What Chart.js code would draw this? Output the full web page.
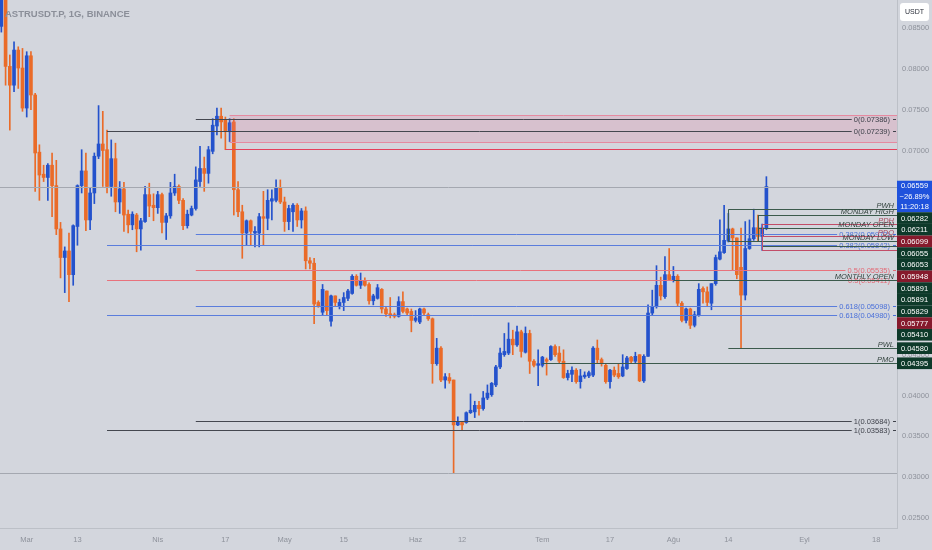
<!DOCTYPE html>
<html>
<head>
<meta charset="utf-8">
<script src="https://cdn.jsdelivr.net/npm/chart.js@4.4.0/dist/chart.umd.min.js"></script>
<style>
  html, body { margin: 0; padding: 0; background: #d3d6dd; }
  #wrap { width: 932px; height: 550px; }
</style>
</head>
<body>
<div id="wrap"><canvas id="myChart"></canvas></div>
<script>
// daily candles, day 0 = 1 March
const firstDay = -6;
const opens = [
  0.0852, 0.0905, 0.0803, 0.0780, 0.0823, 0.0801, 0.0752, 0.0816, 0.0768, 0.0698,
  0.0671, 0.0667, 0.0682, 0.0657, 0.0604, 0.0569, 0.0577, 0.0548, 0.0607, 0.0657,
  0.0675, 0.0615, 0.0648, 0.0693, 0.0708, 0.0701, 0.0656, 0.0690, 0.0637, 0.0653,
  0.0622, 0.0609, 0.0621, 0.0604, 0.0613, 0.0646, 0.0633, 0.0630, 0.0646, 0.0612,
  0.0620, 0.0648, 0.0656, 0.0639, 0.0608, 0.0621, 0.0629, 0.0662, 0.0678, 0.0672,
  0.0699, 0.0730, 0.0742, 0.0737, 0.0723, 0.0735, 0.0652, 0.0625, 0.0599, 0.0614,
  0.0599, 0.0599, 0.0619, 0.0617, 0.0638, 0.0639, 0.0654, 0.0637, 0.0613, 0.0625,
  0.0633, 0.0615, 0.0626, 0.0565, 0.0562, 0.0514, 0.0502, 0.0528, 0.0491, 0.0522,
  0.0510, 0.0514, 0.0519, 0.0525, 0.0546, 0.0535, 0.0541, 0.0536, 0.0516, 0.0519,
  0.0530, 0.0506, 0.0500, 0.0499, 0.0497, 0.0515, 0.0506, 0.0503, 0.0492, 0.0490,
  0.0506, 0.0499, 0.0494, 0.0439, 0.0458, 0.0419, 0.0422, 0.0419, 0.0364, 0.0367,
  0.0367, 0.0379, 0.0380, 0.0388, 0.0384, 0.0397, 0.0401, 0.0413, 0.0435, 0.0450,
  0.0452, 0.0469, 0.0462, 0.0478, 0.0453, 0.0476, 0.0442, 0.0437, 0.0437, 0.0444,
  0.0444, 0.0460, 0.0452, 0.0442, 0.0422, 0.0426, 0.0431, 0.0417, 0.0423, 0.0424,
  0.0425, 0.0458, 0.0444, 0.0437, 0.0417, 0.0431, 0.0427, 0.0424, 0.0433, 0.0447,
  0.0442, 0.0450, 0.0418, 0.0448, 0.0501, 0.0509, 0.0535, 0.0521, 0.0548, 0.0541,
  0.0546, 0.0513, 0.0492, 0.0506, 0.0486, 0.0498, 0.0531, 0.0527, 0.0513, 0.0537,
  0.0567, 0.0575, 0.05891, 0.0604, 0.0593, 0.0557, 0.0523, 0.0580, 0.0592, 0.06055,
  0.05948, 0.06053
];
const highs = [
  0.0915, 0.0912, 0.0817, 0.0833, 0.0827, 0.0825, 0.0821, 0.0821, 0.0770, 0.0707,
  0.0682, 0.0684, 0.0697, 0.0688, 0.0612, 0.0582, 0.0599, 0.0609, 0.0658, 0.0701,
  0.0697, 0.0654, 0.0697, 0.0755, 0.0748, 0.0725, 0.0713, 0.0709, 0.0662, 0.0661,
  0.0627, 0.0625, 0.0623, 0.0617, 0.0656, 0.0660, 0.0647, 0.0650, 0.0648, 0.0623,
  0.0661, 0.0671, 0.0658, 0.0641, 0.0627, 0.0632, 0.0680, 0.0705, 0.0692, 0.0705,
  0.0739, 0.0752, 0.0752, 0.0741, 0.0739, 0.0739, 0.0662, 0.0633, 0.0615, 0.0615,
  0.0607, 0.0623, 0.0650, 0.0652, 0.0652, 0.0664, 0.0664, 0.0643, 0.0633, 0.0635,
  0.0635, 0.0629, 0.0631, 0.0569, 0.0568, 0.0516, 0.0536, 0.0528, 0.0523, 0.0522,
  0.0518, 0.0526, 0.0530, 0.0548, 0.0548, 0.0550, 0.0544, 0.0538, 0.0524, 0.0536,
  0.0531, 0.0509, 0.0520, 0.0501, 0.0521, 0.0527, 0.0507, 0.0506, 0.0504, 0.0507,
  0.0507, 0.0501, 0.0495, 0.0470, 0.0460, 0.0427, 0.0427, 0.0419, 0.0374, 0.0368,
  0.0380, 0.0402, 0.0393, 0.0393, 0.0405, 0.0413, 0.0416, 0.0437, 0.0458, 0.0476,
  0.0489, 0.0480, 0.0485, 0.0480, 0.0484, 0.0480, 0.0444, 0.0456, 0.0448, 0.0446,
  0.0461, 0.0462, 0.0460, 0.0456, 0.0431, 0.0435, 0.0433, 0.0432, 0.0429, 0.0430,
  0.0460, 0.0468, 0.0446, 0.0439, 0.0432, 0.0435, 0.0439, 0.0450, 0.0448, 0.0448,
  0.0453, 0.0450, 0.0450, 0.0511, 0.0529, 0.0559, 0.0545, 0.0570, 0.0580, 0.0558,
  0.0548, 0.0515, 0.0507, 0.0507, 0.0503, 0.0537, 0.0533, 0.0533, 0.0537, 0.0572,
  0.0615, 0.0633, 0.0623, 0.0605, 0.0593, 0.0605, 0.0613, 0.0615, 0.06282, 0.06211,
  0.06099, 0.0668
];
const lows = [
  0.0845, 0.0780, 0.0725, 0.0772, 0.0776, 0.0748, 0.0741, 0.0750, 0.0650, 0.0639,
  0.0662, 0.0639, 0.0619, 0.0597, 0.0544, 0.0526, 0.0515, 0.0535, 0.0584, 0.0648,
  0.0602, 0.0603, 0.0635, 0.0690, 0.0656, 0.0648, 0.0644, 0.0625, 0.0623, 0.0601,
  0.0599, 0.0603, 0.0576, 0.0578, 0.0612, 0.0619, 0.0614, 0.0623, 0.0599, 0.0591,
  0.0617, 0.0645, 0.0635, 0.0603, 0.0605, 0.0620, 0.0627, 0.0656, 0.0650, 0.0660,
  0.0696, 0.0719, 0.0715, 0.0701, 0.0711, 0.0621, 0.0619, 0.0568, 0.0584, 0.0584,
  0.0582, 0.0582, 0.0584, 0.0603, 0.0615, 0.0637, 0.0635, 0.0601, 0.0603, 0.0601,
  0.0607, 0.0605, 0.0555, 0.0555, 0.0488, 0.0508, 0.0499, 0.0499, 0.0485, 0.0510,
  0.0506, 0.0504, 0.0516, 0.0524, 0.0534, 0.0531, 0.0534, 0.0512, 0.0511, 0.0518,
  0.0501, 0.0497, 0.0495, 0.0495, 0.0496, 0.0501, 0.0499, 0.0478, 0.0490, 0.0488,
  0.0499, 0.0492, 0.0415, 0.0437, 0.0417, 0.0409, 0.0415, 0.0305, 0.0363, 0.0358,
  0.0366, 0.0378, 0.0373, 0.0376, 0.0382, 0.0395, 0.0399, 0.0411, 0.0433, 0.0448,
  0.0450, 0.0450, 0.0460, 0.0447, 0.0452, 0.0427, 0.0435, 0.0412, 0.0435, 0.0425,
  0.0443, 0.0448, 0.0439, 0.0421, 0.0419, 0.0417, 0.0415, 0.0409, 0.0421, 0.0422,
  0.0423, 0.0439, 0.0436, 0.0415, 0.0409, 0.0423, 0.0421, 0.0423, 0.0432, 0.0439,
  0.0439, 0.0417, 0.0416, 0.0448, 0.0499, 0.0507, 0.0517, 0.0519, 0.0541, 0.0539,
  0.0509, 0.0490, 0.0489, 0.0482, 0.0484, 0.0497, 0.0513, 0.0510, 0.0505, 0.0535,
  0.0566, 0.0574, 0.0588, 0.0554, 0.0543, 0.0458, 0.0517, 0.0579, 0.0590, 0.05891,
  0.05777, 0.0603
];
const closes = [
  0.0905, 0.0803, 0.0780, 0.0823, 0.0801, 0.0752, 0.0816, 0.0768, 0.0697, 0.0670,
  0.0667, 0.0682, 0.0657, 0.0604, 0.0569, 0.0577, 0.0548, 0.0608, 0.0657, 0.0675,
  0.0615, 0.0648, 0.0693, 0.0708, 0.0700, 0.0656, 0.0690, 0.0637, 0.0653, 0.0621,
  0.0609, 0.0622, 0.0604, 0.0614, 0.0646, 0.0632, 0.0630, 0.0646, 0.0612, 0.0620,
  0.0648, 0.0656, 0.0639, 0.0608, 0.0622, 0.0629, 0.0664, 0.0678, 0.0672, 0.0701,
  0.0731, 0.0742, 0.0735, 0.0723, 0.0734, 0.0652, 0.0625, 0.0599, 0.0614, 0.0601,
  0.0601, 0.0619, 0.0617, 0.0639, 0.0641, 0.0654, 0.0637, 0.0613, 0.0629, 0.0633,
  0.0615, 0.0626, 0.0565, 0.0562, 0.0512, 0.0510, 0.0530, 0.0504, 0.0522, 0.0514,
  0.0514, 0.0520, 0.0528, 0.0546, 0.0535, 0.0541, 0.0535, 0.0516, 0.0522, 0.0532,
  0.0506, 0.0500, 0.0499, 0.0497, 0.0515, 0.0503, 0.0501, 0.0492, 0.0495, 0.0506,
  0.0501, 0.0494, 0.0439, 0.0458, 0.0419, 0.0423, 0.0418, 0.0364, 0.0368, 0.0364,
  0.0379, 0.0382, 0.0388, 0.0384, 0.0397, 0.0403, 0.0415, 0.0435, 0.0452, 0.0454,
  0.0469, 0.0462, 0.0478, 0.0454, 0.0476, 0.0442, 0.0437, 0.0439, 0.0447, 0.0442,
  0.0460, 0.0450, 0.0442, 0.0422, 0.0427, 0.0431, 0.0417, 0.0424, 0.0425, 0.0428,
  0.0458, 0.0444, 0.0439, 0.0417, 0.0431, 0.0425, 0.0423, 0.0435, 0.0446, 0.0442,
  0.0448, 0.0418, 0.0448, 0.0501, 0.0509, 0.0535, 0.0522, 0.0548, 0.0542, 0.0546,
  0.0513, 0.0492, 0.0506, 0.0486, 0.0499, 0.0530, 0.0527, 0.0514, 0.0537, 0.0569,
  0.0576, 0.0590, 0.0604, 0.0593, 0.0548, 0.0523, 0.0580, 0.0592, 0.06055, 0.05948,
  0.06053, 0.06559
];

const tickDays = [0, 12, 31, 47, 61, 75, 92, 103, 122, 138, 153, 166, 184, 201];
const tickLabels = ['Mar', '13', 'Nis', '17', 'May', '15', 'Haz', '12', 'Tem', '17', 'Ağu', '14', 'Eyl', '18'];
const priceTicks = [0.025, 0.03, 0.035, 0.04, 0.045, 0.05, 0.055, 0.06, 0.065, 0.07, 0.075, 0.08, 0.085];

// fibonacci levels (two sets)
const fibPrices = [0.07386, 0.05972, 0.05535, 0.05098, 0.03684, 0.07239, 0.05842, 0.05411, 0.04980, 0.03583];
const fibRatios = ['0', '0.382', '0.5', '0.618', '1', '0', '0.382', '0.5', '0.618', '1'];
const fibStarts = [40, 40, 40, 40, 40, 19, 19, 19, 19, 19];

// key levels on the right
const levelPrices = [0.06282, 0.06211, 0.06099, 0.06055, 0.06053, 0.05948, 0.05891, 0.05891, 0.05829, 0.05777, 0.05410, 0.04580, 0.04395];
const levelNames = ['PWH', 'MONDAY HIGH', 'PDH', 'MONDAY OPEN', '', 'PDO', 'MONDAY LOW', '', '', '', 'MONTHLY OPEN', 'PWL', 'PMO'];
const levelStarts = [166, 173, 174, 173, 174, 174, 173, 166, 174, 174, 153, 166, 122];
const levelIsRed = [false, false, true, false, false, true, false, false, false, true, false, false, false];
const vertDays = [166, 173, 174];
const vertTops = [0.06282, 0.06211, 0.06099];
const vertBottoms = [0.05891, 0.05891, 0.05777];

const zoneTop = 0.07435, zoneBottom = 0.07108, zoneStart = 48;
const redLinePrice = 0.0702, redLineStart = 47;
const lastPrice = 0.06559, lastChange = '−26.89%', countdown = '11:20:18';
const lowLinePrice = 0.03047;

const upColor = '#2452cc', downColor = '#ea6b28';
const bg = '#d3d6dd';
const fontFam = '"Liberation Sans Narrow", "Liberation Sans", Roboto, sans-serif';

const days = opens.map((o, i) => firstDay + i);
const candleColors = opens.map((o, i) => closes[i] >= o ? upColor : downColor);

const levelsPlugin = {
    id: 'levels',
    beforeDraw(chart) {
        const ctx = chart.ctx;
        ctx.save();
        ctx.fillStyle = bg;
        ctx.fillRect(0, 0, chart.width, chart.height);
        ctx.restore();
    },
    afterDatasetsDraw(chart) {
        const {ctx, chartArea: a, scales: {x, y}} = chart;
        const py = p => Math.round(y.getPixelForValue(p)) + 0.5;
        const px = d => x.getPixelForValue(d);
        ctx.save();
        ctx.beginPath();
        ctx.rect(a.left, a.top, a.right - a.left, a.bottom - a.top);
        ctx.clip();

        function hline(yy, x0, x1, color, w) {
            ctx.strokeStyle = color;
            ctx.lineWidth = w || 1;
            ctx.beginPath();
            ctx.moveTo(x0, yy);
            ctx.lineTo(x1, yy);
            ctx.stroke();
        }

        // full width grey lines
        hline(py(lastPrice), a.left, a.right, '#a4a8b0', 1);
        hline(py(lowLinePrice), a.left, a.right, '#a4a8b0', 1);

        // pink zone
        const zx = px(zoneStart);
        ctx.fillStyle = 'rgba(233, 110, 150, 0.2)';
        ctx.fillRect(zx, py(zoneTop), a.right - zx, py(zoneBottom) - py(zoneTop));
        hline(py(zoneTop), zx, a.right, '#e58aa0', 1);
        hline(py(zoneBottom), zx, a.right, '#e58aa0', 1);
        hline(py(redLinePrice), px(redLineStart), a.right, '#e4405c', 1.2);

        // fib lines + labels
        ctx.font = '7.5px ' + fontFam;
        ctx.textBaseline = 'middle';
        fibPrices.forEach((p, i) => {
            const r = fibRatios[i];
            let lc = '#44474f', tc = '#3f424b';
            if (r === '0.382' || r === '0.618') { lc = '#5a7ddc'; tc = '#4a70d9'; }
            if (r === '0.5') { lc = '#e8727c'; tc = '#e36a76'; }
            const txt = r + '(' + p.toFixed(5) + ')';
            const w = ctx.measureText(txt).width;
            const yy = py(p);
            hline(yy, px(fibStarts[i]), 890 - w - 2, lc, 1);
            ctx.fillStyle = tc;
            ctx.textAlign = 'right';
            ctx.fillText(txt, 890, yy);
            hline(yy, 893, 896, tc, 1);
        });

        // key levels
        levelPrices.forEach((p, i) => {
            hline(py(p), px(levelStarts[i]), a.right, levelIsRed[i] ? '#c24d68' : '#3b5a4c', 1);
        });
        vertDays.forEach((d, i) => {
            const xx = Math.round(px(d)) + 0.5;
            ctx.strokeStyle = i === 2 ? '#c24d68' : '#3b5a4c';
            ctx.lineWidth = 1;
            ctx.beginPath();
            ctx.moveTo(xx, py(vertTops[i]));
            ctx.lineTo(xx, py(vertBottoms[i]));
            ctx.stroke();
        });
        ctx.font = 'italic 7.5px ' + fontFam;
        ctx.textAlign = 'right';
        ctx.textBaseline = 'alphabetic';
        levelNames.forEach((n, i) => {
            if (!n) return;
            ctx.fillStyle = levelIsRed[i] ? '#a8475c' : '#34443f';
            ctx.fillText(n, 894, py(levelPrices[i]) - 2);
        });
        ctx.restore();
    },
    afterDraw(chart) {
        const {ctx, chartArea: a, scales: {y}} = chart;
        ctx.save();
        const tagX = a.right, tagW = chart.width - a.right, tagH = 11.67;
        ctx.textAlign = 'center';
        ctx.textBaseline = 'middle';
        ctx.font = '7.5px ' + fontFam;

        // current price tag
        const blueTop = y.getPixelForValue(lastPrice) - 5.8;
        const blueH = 31.5;
        ctx.fillStyle = '#1f52dc';
        ctx.fillRect(tagX, blueTop, tagW, blueH);
        ctx.fillStyle = '#ffffff';
        [lastPrice.toFixed(5), lastChange, countdown].forEach((t, k) => {
            ctx.fillText(t, tagX + tagW / 2, blueTop + 5.5 + k * 10.3);
        });

        // stacked level tags
        let prevBottom = blueTop + blueH;
        levelPrices.forEach((p, i) => {
            let top = y.getPixelForValue(p) - tagH / 2;
            if (top < prevBottom) top = prevBottom;
            ctx.fillStyle = levelIsRed[i] ? '#861a2c' : '#0e3a2a';
            ctx.fillRect(tagX, top, tagW, tagH);
            ctx.fillStyle = '#ffffff';
            ctx.fillText(p.toFixed(5), tagX + tagW / 2, top + tagH / 2 + 0.5);
            prevBottom = top + tagH;
        });

        // title
        ctx.textAlign = 'left';
        ctx.font = 'bold 9.5px ' + fontFam;
        ctx.fillStyle = '#8b8f99';
        ctx.fillText('ASTRUSDT.P, 1G, BINANCE', 5, 14);

        // currency button
        ctx.fillStyle = '#ffffff';
        ctx.beginPath();
        ctx.roundRect(900, 3, 29, 18, 3);
        ctx.fill();
        ctx.fillStyle = '#2a2e39';
        ctx.textAlign = 'center';
        ctx.font = '7px ' + fontFam;
        ctx.fillText('USDT', 914.5, 12.5);
        ctx.restore();
    }
};

const ctx = document.getElementById('myChart').getContext('2d');
const myChart = new Chart(ctx, {
    type: 'bar',
    data: {
        datasets: [{
            label: 'bodies',
            data: days.map((d, i) => ({x: d, y: [Math.min(opens[i], closes[i]), Math.max(opens[i], closes[i])]})),
            backgroundColor: candleColors,
            barThickness: 3,
            minBarLength: 1,
            grouped: false
        }, {
            label: 'wicks',
            data: days.map((d, i) => ({x: d, y: [lows[i], highs[i]]})),
            backgroundColor: candleColors,
            barThickness: 1,
            grouped: false
        }]
    },
    options: {
        responsive: true,
        maintainAspectRatio: false,
        animation: false,
        events: [],
        layout: { padding: 0 },
        plugins: { legend: { display: false }, tooltip: { enabled: false } },
        scales: {
            x: {
                type: 'linear',
                min: -6.32,
                max: 205.9,
                offset: false,
                grid: { display: false, drawTicks: false, offset: false },
                border: { display: true, color: '#bcc0c7' },
                ticks: {
                    autoSkip: false,
                    maxRotation: 0,
                    padding: 7,
                    color: '#8e929b',
                    font: { size: 7.5, family: fontFam },
                    callback: (v, i) => tickLabels[i]
                },
                afterBuildTicks: s => { s.ticks = tickDays.map(v => ({value: v})); },
                afterFit: s => { s.height = 22; s.paddingLeft = 0; s.paddingRight = 0; }
            },
            y: {
                type: 'linear',
                position: 'right',
                min: 0.02378,
                max: 0.08843,
                grid: { display: false, drawTicks: false },
                border: { display: true, color: '#bcc0c7' },
                ticks: {
                    padding: 5,
                    color: '#8e929b',
                    font: { size: 7.5, family: fontFam },
                    callback: v => v.toFixed(5)
                },
                afterBuildTicks: s => { s.ticks = priceTicks.map(v => ({value: v})); },
                afterFit: s => { s.width = 35; s.paddingTop = 0; s.paddingBottom = 0; }
            }
        }
    },
    plugins: [levelsPlugin]
});
</script>
</body>
</html>
